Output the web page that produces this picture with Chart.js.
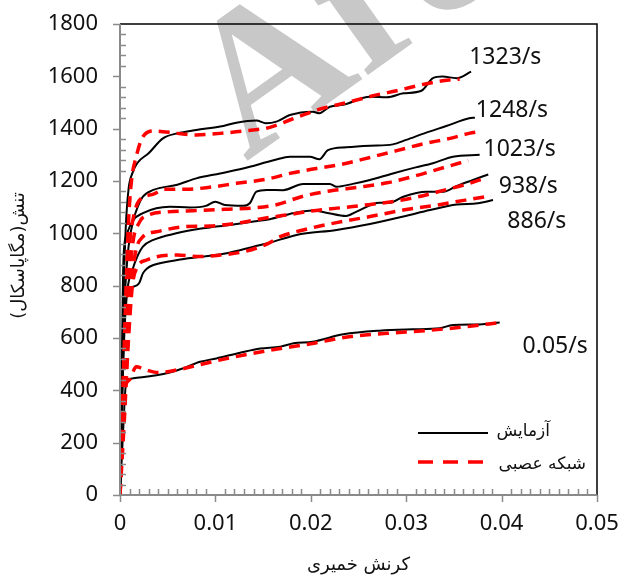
<!DOCTYPE html>
<html>
<head>
<meta charset="utf-8">
<script src="https://cdn.jsdelivr.net/npm/chart.js@4.4.1/dist/chart.umd.min.js"></script>
<style>
  html, body { margin: 0; padding: 0; background: #fff; }
</style>
</head>
<body>
<canvas id="stressChart" width="621" height="577"></canvas>
<script>
// strain-rate curves: [plastic strain, stress MPa]
const exp1323 = [[0,0],[0.0002,450],[0.0004,800],[0.0006,1020],[0.0009,1170],[0.0013,1230],[0.0018,1268],[0.003,1306],[0.0045,1363],[0.006,1382],[0.008,1395],[0.0105,1408],[0.0122,1423],[0.0143,1431],[0.0153,1421],[0.0164,1427],[0.0178,1452],[0.0202,1465],[0.0209,1459],[0.022,1484],[0.0234,1491],[0.0262,1522],[0.028,1520],[0.0297,1535],[0.0316,1545],[0.0328,1593],[0.0338,1599],[0.0353,1593],[0.0368,1618]];
const nn1323 = [[0,0],[0.0003,400],[0.0006,750],[0.0009,1050],[0.0012,1200],[0.0017,1293],[0.0024,1369],[0.0036,1391],[0.006,1382],[0.008,1376],[0.0105,1382],[0.013,1391],[0.0157,1405],[0.018,1436],[0.021,1475],[0.0237,1499],[0.0269,1529],[0.029,1545],[0.032,1571],[0.0345,1586],[0.0356,1589]];

const exp1248 = [[0,0],[0.0002,400],[0.0005,750],[0.0009,950],[0.0014,1050],[0.0019,1105],[0.0024,1140],[0.0035,1166],[0.0059,1185],[0.008,1210],[0.0105,1229],[0.0129,1248],[0.0162,1280],[0.0178,1293],[0.0199,1293],[0.0209,1283],[0.0218,1318],[0.0237,1329],[0.0262,1335],[0.0286,1340],[0.03,1357],[0.0321,1385],[0.0342,1410],[0.0366,1440],[0.0372,1442]];
const nn1248 = [[0,0],[0.0003,350],[0.0007,700],[0.001,950],[0.0014,1060],[0.002,1125],[0.0035,1150],[0.0047,1168],[0.0068,1168],[0.0094,1176],[0.0122,1191],[0.0154,1207],[0.0178,1229],[0.0206,1248],[0.0234,1265],[0.0262,1290],[0.029,1316],[0.0318,1342],[0.0346,1363],[0.0366,1382],[0.0377,1389]];

const exp1023 = [[0,0],[0.0002,500],[0.0003,800],[0.0004,930],[0.0007,994],[0.0014,1051],[0.0024,1077],[0.0038,1096],[0.0052,1102],[0.0073,1099],[0.009,1105],[0.01,1121],[0.011,1108],[0.0129,1105],[0.0136,1115],[0.0143,1159],[0.0154,1166],[0.0171,1165],[0.0192,1189],[0.022,1189],[0.0227,1178],[0.0244,1189],[0.0262,1204],[0.0286,1229],[0.031,1252],[0.0328,1268],[0.0349,1293],[0.0377,1300]];
const nn1023 = [[0,0],[0.0003,300],[0.0008,700],[0.0013,950],[0.002,1040],[0.003,1070],[0.005,1082],[0.008,1087],[0.011,1092],[0.014,1097],[0.0165,1110],[0.019,1140],[0.022,1162],[0.025,1176],[0.028,1193],[0.031,1220],[0.034,1252],[0.0365,1278]];

const exp938 = [[0,0],[0.0002,350],[0.0005,650],[0.0008,790],[0.0013,860],[0.0018,910],[0.0024,949],[0.0035,975],[0.0059,1000],[0.0087,1019],[0.0115,1032],[0.014,1045],[0.0157,1054],[0.0178,1074],[0.0202,1087],[0.0216,1079],[0.0237,1066],[0.0248,1083],[0.0272,1117],[0.0283,1117],[0.0297,1140],[0.0321,1159],[0.0339,1159],[0.0353,1181],[0.037,1204],[0.0386,1225]];
const nn938 = [[0,0],[0.0004,300],[0.001,700],[0.0015,900],[0.0024,987],[0.0038,1006],[0.0066,1025],[0.0094,1028],[0.0122,1038],[0.015,1057],[0.0175,1070],[0.02,1085],[0.025,1105],[0.03,1130],[0.034,1165],[0.0365,1190],[0.0382,1210]];

const exp886 = [[0,0],[0.0002,300],[0.0004,600],[0.0007,771],[0.0013,795],[0.002,809],[0.0024,847],[0.0028,865],[0.0035,879],[0.006,898],[0.0087,911],[0.0112,924],[0.014,949],[0.0157,964],[0.0185,994],[0.0227,1013],[0.0262,1036],[0.0297,1064],[0.0325,1089],[0.0353,1110],[0.0375,1115],[0.0391,1127]];
const nn886 = [[0,0],[0.0004,250],[0.0009,600],[0.0013,800],[0.0018,870],[0.0028,898],[0.006,917],[0.0083,911],[0.0105,917],[0.013,930],[0.0154,959],[0.0168,987],[0.0192,1013],[0.0227,1041],[0.0262,1064],[0.0297,1089],[0.0332,1108],[0.0362,1127],[0.0389,1143]];

const exp005 = [[0,0],[0.0002,150],[0.0004,300],[0.0006,420],[0.0008,440],[0.0014,446],[0.0049,465],[0.0066,484],[0.0084,509],[0.0101,522],[0.0126,544],[0.0147,560],[0.0168,567],[0.0182,580],[0.0202,586],[0.0234,614],[0.0272,628],[0.0307,633],[0.0335,637],[0.0349,650],[0.0377,652],[0.0398,659]];
const nn005 = [[0,0],[0.0002,200],[0.0004,390],[0.001,440],[0.0017,490],[0.0027,478],[0.004,468],[0.006,478],[0.008,495],[0.01,512],[0.013,535],[0.016,555],[0.02,578],[0.024,605],[0.028,618],[0.032,628],[0.036,642],[0.04,660]];

// curve labels and where they sit (data coords, left edge / middle)
const rateLabels = ['1323/s', '1248/s', '1023/s', '938/s', '886/s', '0.05/s'];
const rateLabelX = [0.0366, 0.0373, 0.0381, 0.0397, 0.0406, 0.0422];
const rateLabelY = [1674, 1468, 1319, 1181, 1047, 569];

const xTicks = [0, 0.01, 0.02, 0.03, 0.04, 0.05];
const yTicks = [0, 200, 400, 600, 800, 1000, 1200, 1400, 1600, 1800];

const legendLabels = ['آزمایش', 'شبکه عصبی'];
const xTitle = 'کرنش خمیری';
const yTitle = 'تنش(مگاپاسکال)';

const toXY = arr => arr.map(p => ({ x: p[0], y: p[1] }));

const expSets = [exp1323, exp1248, exp1023, exp938, exp886, exp005];
const nnSets = [nn1323, nn1248, nn1023, nn938, nn886, nn005];

const datasets = [];
nnSets.forEach(s => datasets.push({
    data: toXY(s), borderColor: '#ff0000', borderWidth: 3.5,
    borderDash: [11, 7], order: 0
}));
expSets.forEach(s => datasets.push({
    data: toXY(s), borderColor: '#000000', borderWidth: 2, order: 1
}));

const AXIS_GREY = '#8a8a8a';
const TEXT_FONT = '"Noto Sans", "Open Sans", sans-serif';
const FA_FONT = '"DejaVu Sans", "Noto Sans", sans-serif';

// faint diagonal stamp behind the curves
const stampPlugin = {
    id: 'stamp',
    beforeDatasetsDraw(chart) {
        const ctx = chart.ctx;
        ctx.save();
        ctx.translate(246, 162);
        ctx.rotate(-0.62);
        ctx.fillStyle = '#c8c8c8';
        ctx.font = 'bold 200px "Liberation Serif", serif';
        ctx.textBaseline = 'alphabetic';
        ctx.fillText('Archive of SID', 0, 0);
        ctx.restore();
    }
};

// axis lines, inner minor ticks, outer major ticks, frame, labels, legend
const decorPlugin = {
    id: 'decor',
    afterDraw(chart) {
        const ctx = chart.ctx;
        const xs = chart.scales.x, ys = chart.scales.y;
        const a = chart.chartArea;
        ctx.save();

        // frame top/right
        ctx.strokeStyle = '#000';
        ctx.lineWidth = 1.5;
        ctx.beginPath();
        ctx.moveTo(a.left, a.top); ctx.lineTo(a.right, a.top); ctx.lineTo(a.right, a.bottom);
        ctx.stroke();

        ctx.strokeStyle = AXIS_GREY;
        ctx.lineWidth = 2;
        ctx.beginPath();
        ctx.moveTo(a.left, a.top); ctx.lineTo(a.left, a.bottom); ctx.lineTo(a.right, a.bottom);
        ctx.stroke();

        ctx.lineWidth = 1.5;
        ctx.beginPath();
        for (let v = 0; v <= 1800; v += 40) {
            const py = Math.round(ys.getPixelForValue(v)) + 0.5;
            if (v % 200 === 0) { ctx.moveTo(a.left - 7, py); ctx.lineTo(a.left, py); }
            else { ctx.moveTo(a.left, py); ctx.lineTo(a.left + 6, py); }
        }
        for (let i = 0; i <= 50; i++) {
            const px = Math.round(xs.getPixelForValue(i / 1000)) + 0.5;
            if (i % 10 === 0) { ctx.moveTo(px, a.bottom); ctx.lineTo(px, a.bottom + 7); }
            else { ctx.moveTo(px, a.bottom); ctx.lineTo(px, a.bottom - 6); }
        }
        ctx.stroke();

        // curve labels
        ctx.fillStyle = '#111';
        ctx.font = '23px ' + TEXT_FONT;
        ctx.textAlign = 'left';
        ctx.textBaseline = 'middle';
        rateLabels.forEach((t, i) => {
            ctx.fillText(t, xs.getPixelForValue(rateLabelX[i]), ys.getPixelForValue(rateLabelY[i]));
        });

        // legend
        ctx.lineWidth = 2;
        ctx.strokeStyle = '#000';
        ctx.beginPath(); ctx.moveTo(418, 433); ctx.lineTo(488, 433); ctx.stroke();
        ctx.lineWidth = 3.5;
        ctx.strokeStyle = '#ff0000';
        ctx.setLineDash([15, 10]);
        ctx.beginPath(); ctx.moveTo(418, 462); ctx.lineTo(486, 462); ctx.stroke();
        ctx.setLineDash([]);

        ctx.direction = 'rtl';
        ctx.textAlign = 'right';
        ctx.font = '17px ' + FA_FONT;
        ctx.fillStyle = '#111';
        ctx.fillText(legendLabels[0], 550, 432);
        ctx.fillText(legendLabels[1], 586, 465);

        // axis titles
        ctx.textAlign = 'center';
        ctx.font = '18px ' + FA_FONT;
        ctx.fillText(xTitle, (a.left + a.right) / 2, 565);
        ctx.translate(19, (a.top + a.bottom) / 2 - 4);
        ctx.rotate(-Math.PI / 2);
        ctx.fillText(yTitle, 0, 0);
        ctx.restore();
    }
};

// keep the plot box fixed: no extra room for half-width edge labels
const noEdgePad = s => { s.paddingLeft = 0; s.paddingRight = 0; s.paddingTop = 0; s.paddingBottom = 0; };

new Chart(document.getElementById('stressChart'), {
    type: 'line',
    data: { datasets },
    options: {
        responsive: false,
        animation: false,
        elements: {
            point: { radius: 0 },
            line: { cubicInterpolationMode: 'monotone', fill: false }
        },
        layout: { padding: { top: 24, right: 24, left: 0, bottom: 0 } },
        plugins: { legend: { display: false }, tooltip: { enabled: false } },
        scales: {
            x: {
                type: 'linear', min: 0, max: 0.05,
                afterBuildTicks: s => { s.ticks = xTicks.map(v => ({ value: v })); },
                afterFit: s => { s.height = 82; noEdgePad(s); },
                grid: { display: false, drawTicks: false },
                border: { display: false },
                ticks: {
                    padding: 16, color: '#111', maxRotation: 0,
                    font: { size: 22, family: TEXT_FONT },
                    callback: v => String(parseFloat(Number(v).toFixed(2)))
                }
            },
            y: {
                type: 'linear', min: 0, max: 1800,
                afterBuildTicks: s => { s.ticks = yTicks.map(v => ({ value: v })); },
                afterFit: s => { s.width = 120; noEdgePad(s); },
                grid: { display: false, drawTicks: false },
                border: { display: false },
                ticks: {
                    padding: 22, color: '#111',
                    font: { size: 22, family: TEXT_FONT },
                    callback: v => String(v)
                }
            }
        }
    },
    plugins: [stampPlugin, decorPlugin]
});
</script>
</body>
</html>
